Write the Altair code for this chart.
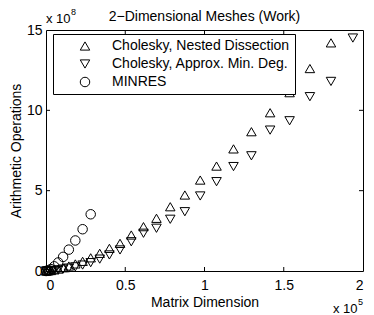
import altair as alt
import pandas as pd

# Matrix dimension (units of 1e5) and arithmetic operations (units of 1e8)
x_nd = [0.0006, 0.0058, 0.016, 0.031, 0.052, 0.077, 0.108, 0.144, 0.185, 0.231,
        0.282, 0.339, 0.400, 0.467, 0.538, 0.615, 0.697, 0.784, 0.876, 0.973,
        1.076, 1.183, 1.296, 1.414, 1.537, 1.665, 1.798]
y_nd = [0.0, 0.003, 0.012, 0.03, 0.07, 0.12, 0.2, 0.31, 0.44, 0.6,
        0.82, 1.1, 1.41, 1.72, 2.24, 2.76, 3.28, 4.0, 4.73, 5.66,
        6.53, 7.6, 8.67, 9.85, 11.1, 12.6, 14.2]

x_amd = [0.0006, 0.0058, 0.016, 0.031, 0.052, 0.077, 0.108, 0.144, 0.185, 0.231,
         0.282, 0.339, 0.400, 0.467, 0.538, 0.615, 0.697, 0.784, 0.876, 0.973,
         1.076, 1.183, 1.296, 1.414, 1.537, 1.665, 1.798, 1.936]
y_amd = [0.0, 0.002, 0.01, 0.02, 0.04, 0.07, 0.12, 0.18, 0.26, 0.37,
         0.52, 0.74, 1.0, 1.31, 1.82, 2.35, 2.66, 3.22, 3.69, 4.67,
         5.56, 6.5, 7.17, 8.77, 9.35, 10.85, 11.8, 14.5]

x_minres = [0.0006, 0.0058, 0.016, 0.031, 0.052, 0.077, 0.108, 0.144, 0.185, 0.231, 0.282]
y_minres = [0.0, 0.01, 0.04, 0.12, 0.29, 0.53, 0.88, 1.33, 1.9, 2.6, 3.53]

series_names = ["Cholesky, Nested Dissection", "Cholesky, Approx. Min. Deg.", "MINRES"]
series_shapes = ["triangle-up", "triangle-down", "circle"]

x_tick_values = [0, 0.5, 1, 1.5, 2]
y_tick_values = [0, 5, 10, 15]
x_inner_ticks = [0.5, 1, 1.5]
y_inner_ticks = [5, 10]

rows = []
for name, xs_, ys_ in zip(series_names, [x_nd, x_amd, x_minres], [y_nd, y_amd, y_minres]):
    for a, b in zip(xs_, ys_):
        rows.append({"series": name, "x": a, "y": b})
df = pd.DataFrame(rows)

W, H = 317, 241
FONT = "Liberation Sans"

xscale = alt.Scale(domain=[0, 2], nice=False, zero=False)
yscale = alt.Scale(domain=[0, 15], nice=False, zero=False)

xaxis = alt.Axis(values=x_tick_values, format="~g", title="Matrix Dimension",
                 labelBaseline="alphabetic", labelPadding=18.5,
                 titleX=W / 2, titleY=35.7, titleBaseline="alphabetic",
                 titleAlign="center")
yaxis = alt.Axis(values=y_tick_values, format="~g", title="Arithmetic Operations",
                 labelPadding=4, titleX=-26, titleY=H / 2, titleAngle=270,
                 titleAlign="center", titleBaseline="alphabetic")

points = alt.Chart(df).mark_point(filled=False, strokeWidth=1, opacity=1, size=90).encode(
    x=alt.X("x:Q", scale=xscale, axis=xaxis),
    y=alt.Y("y:Q", scale=yscale, axis=yaxis),
    color=alt.value("black"),
    shape=alt.Shape("series:N", sort=series_names,
                    scale=alt.Scale(domain=series_names, range=series_shapes),
                    legend=alt.Legend(orient="none", legendX=7, legendY=4, title=None,
                                      fillColor="white", strokeColor="black",
                                      padding=5, rowPadding=4, symbolOffset=20,
                                      symbolSize=90, symbolStrokeWidth=1,
                                      symbolStrokeColor="black", symbolFillColor="white",
                                      labelFont=FONT, labelFontSize=14, labelColor="black",
                                      labelOffset=20, labelLimit=400, zindex=1)),
)

xt = pd.DataFrame({"x": x_inner_ticks})
yt = pd.DataFrame({"y": y_inner_ticks})
tick_b = alt.Chart(xt).mark_rule(color="black", strokeWidth=1).encode(
    x=alt.X("x:Q", scale=xscale, axis=xaxis), y=alt.value(H), y2=alt.value(H - 4))
tick_t = alt.Chart(xt).mark_rule(color="black", strokeWidth=1).encode(
    x=alt.X("x:Q", scale=xscale, axis=xaxis), y=alt.value(0), y2=alt.value(4))
tick_l = alt.Chart(yt).mark_rule(color="black", strokeWidth=1).encode(
    y=alt.Y("y:Q", scale=yscale, axis=yaxis), x=alt.value(0), x2=alt.value(4))
tick_r = alt.Chart(yt).mark_rule(color="black", strokeWidth=1).encode(
    y=alt.Y("y:Q", scale=yscale, axis=yaxis), x=alt.value(W - 4), x2=alt.value(W))


def label(text, x, y, size, align="left"):
    return alt.Chart(pd.DataFrame({"t": [text]})).mark_text(
        font=FONT, fontSize=size, color="black", align=align, baseline="alphabetic"
    ).encode(text="t:N", x=alt.value(x), y=alt.value(y))


title = label("2\u2212Dimensional Meshes (Work)", W / 2, -9.5, 14, "center")
ymul = label("x 10", 0, -7, 13)
yexp = label("8", 25, -15, 9)
xmul = label("x 10", 287, 283, 13)
xexp = label("5", 312, 275, 9)

chart = alt.layer(points, tick_b, tick_t, tick_l, tick_r, title, ymul, yexp, xmul, xexp).properties(
    width=W, height=H,
    padding={"left": 38, "top": 22, "right": 3, "bottom": 44},
    autosize=alt.AutoSizeParams(type="none"),
).configure_view(stroke="black", strokeWidth=1).configure_axis(
    domain=False, ticks=False, grid=False,
    labelFont=FONT, labelFontSize=14, labelColor="black",
    titleFont=FONT, titleFontSize=14, titleColor="black", titleFontWeight="normal",
)

chart.save("out.html", embed_options={"renderer": "svg", "actions": False})
